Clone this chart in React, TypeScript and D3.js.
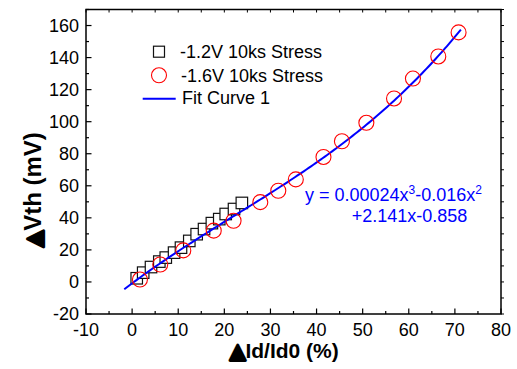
import React from "react";
import * as d3 from "d3";

const squareX = [1.0, 2.4, 4.1, 5.9, 7.3, 9.1, 10.6, 12.4, 14.0, 15.6, 17.3, 18.9, 20.3, 22.1, 23.8];
const squareY = [2.3, 5.8, 9.3, 12.7, 15.2, 18.3, 21.4, 25.6, 29.8, 33.0, 36.7, 39.2, 42.4, 45.5, 49.3];
const circleX = [1.7, 6.1, 11.1, 17.7, 22.0, 27.8, 31.7, 35.5, 41.5, 45.5, 50.8, 56.8, 60.9, 66.4, 70.8];
const circleY = [1.5, 10.9, 19.7, 32.0, 38.2, 49.8, 56.9, 64.0, 78.0, 87.8, 99.3, 114.5, 126.9, 140.7, 155.7];
const fitCoefficients = [0.00024, -0.016, 2.141, -0.858];
const fitRange = [-1.7, 71.3];
const xTicks = [-10, 0, 10, 20, 30, 40, 50, 60, 70, 80];
const yTicks = [-20, 0, 20, 40, 60, 80, 100, 120, 140, 160];
const legendLabels = ["-1.2V 10ks Stress", "-1.6V 10ks Stress", "Fit Curve 1"];

export default function App() {
  const W = 517, H = 369;
  const L = 86, R = 501, T = 9.5, B = 314;
  const x = d3.scaleLinear().domain([-10, 80]).range([L, R]);
  const y = d3.scaleLinear().domain([-20, 170]).range([B, T]);
  const fit = (v: number) =>
    fitCoefficients[0] * v * v * v + fitCoefficients[1] * v * v + fitCoefficients[2] * v + fitCoefficients[3];
  const fitPts: [number, number][] = d3.range(fitRange[0], fitRange[1] + 0.001, 0.5).map((v) => [v, fit(v)]);
  fitPts.push([fitRange[1], fit(fitRange[1])]);
  const line = d3.line<[number, number]>().x((d) => x(d[0])).y((d) => y(d[1]));
  const xMinor = d3.range(-10, 80.01, 5);
  const yMinor = d3.range(-20, 170.01, 10);
  const font = "Liberation Sans, Arial, sans-serif";
  const sq = 11.5;
  return (
    <svg width={W} height={H} style={{ position: "absolute", left: 0, top: 0, background: "#fff" }} fontFamily={font}>
      <rect x={0} y={0} width={W} height={H} fill="#fff" />
      {xMinor.map((v) => {
        const major = Math.abs(v % 10) < 0.001;
        return (
          <g key={"xt" + v}>
            <line x1={x(v)} x2={x(v)} y1={B} y2={B - (major ? 5.5 : 3)} stroke="#000" strokeWidth={1.2} />
            <line x1={x(v)} x2={x(v)} y1={T} y2={T + 3} stroke="#000" strokeWidth={1} />
          </g>
        );
      })}
      {yMinor.map((v) => {
        const major = Math.abs(v % 20) < 0.001;
        return (
          <g key={"yt" + v}>
            <line x1={L} x2={L + (major ? 5.5 : 3)} y1={y(v)} y2={y(v)} stroke="#000" strokeWidth={1.2} />
            <line x1={R} x2={R + 3} y1={y(v)} y2={y(v)} stroke="#000" strokeWidth={1} />
          </g>
        );
      })}
      <rect x={L} y={T} width={R - L} height={B - T} fill="none" stroke="#000" strokeWidth={1.5} />
      {xTicks.map((v) => (
        <text key={"xl" + v} x={x(v)} y={335.5} textAnchor="middle" fontSize={18}>
          {v}
        </text>
      ))}
      {yTicks.map((v) => (
        <text key={"yl" + v} x={79} y={y(v) + 6.3} textAnchor="end" fontSize={18}>
          {v}
        </text>
      ))}
      {squareX.map((v, i) => (
        <rect key={"s" + i} x={x(v) - sq / 2} y={y(squareY[i]) - sq / 2} width={sq} height={sq}
          fill="#fff" stroke="#111" strokeWidth={1.2} />
      ))}
      <path d={line(fitPts) || ""} fill="none" stroke="#0000ff" strokeWidth={2} />
      {circleX.map((v, i) => (
        <circle key={"c" + i} cx={x(v)} cy={y(circleY[i])} r={7.5} fill="none" stroke="#ff0000" strokeWidth={1.1} />
      ))}
      <rect x={159 - 5.5} y={51.7 - 5.5} width={11} height={11} fill="#fff" stroke="#111" strokeWidth={1.2} />
      <circle cx={159} cy={75.3} r={7.5} fill="none" stroke="#ff0000" strokeWidth={1.1} />
      <line x1={142.7} x2={175.7} y1={98.7} y2={98.7} stroke="#0000ff" strokeWidth={2} />
      <text x={180} y={58.3} fontSize={18}>{legendLabels[0]}</text>
      <text x={181} y={81.7} fontSize={18}>{legendLabels[1]}</text>
      <text x={182} y={104} fontSize={18}>{legendLabels[2]}</text>
      <text x={305} y={200.7} fontSize={18} fill="#0000ff">
        y = 0.00024x<tspan dy={-7} fontSize={12}>3</tspan>
        <tspan dy={7}>-0.016x</tspan>
        <tspan dy={-7} fontSize={12}>2</tspan>
      </text>
      <text x={351.7} y={221.7} fontSize={18} fill="#0000ff">+2.141x-0.858</text>
      <text x={230} y={357.5} fontSize={21} fontWeight="bold">
        <tspan fontFamily="DejaVu Sans" fontSize={20} stroke="#000" strokeWidth={3} strokeLinejoin="round">▲</tspan>
        <tspan>Id/Id0 (%)</tspan>
      </text>
      <text transform="translate(41,247) rotate(-90)" x={0} y={0} fontSize={24} fontWeight="bold">
        <tspan fontFamily="DejaVu Sans" fontSize={21} stroke="#000" strokeWidth={3} strokeLinejoin="round">▲</tspan>
        <tspan>Vth (mV)</tspan>
      </text>
    </svg>
  );
}
